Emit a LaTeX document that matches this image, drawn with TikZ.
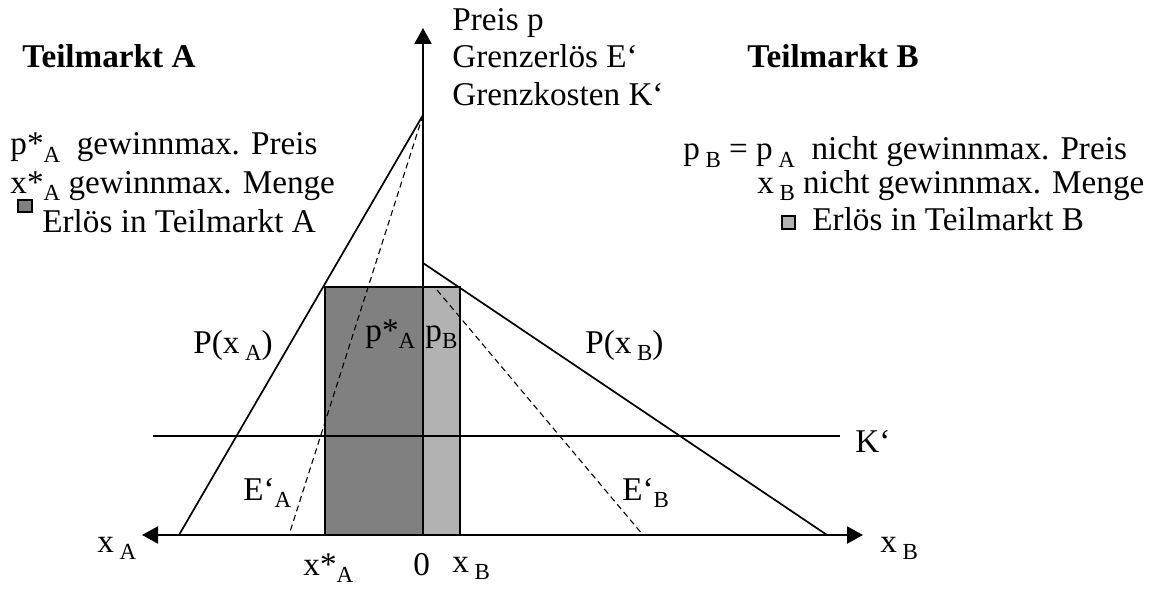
\documentclass[tikz,border=0pt]{standalone}
\usepackage{fontspec}
\setmainfont{Liberation Serif}
\usetikzlibrary{arrows.meta}
\tikzset{
  axis/.style={line width=1pt, -{Triangle[length=8pt,width=8.5pt]}},
  demand/.style={line width=0.85pt},
  margrev/.style={line width=0.55pt, dash pattern=on 3pt off 2pt},
  area/.style={draw=black, line width=0.7pt},
  txt/.style={anchor=base west, inner sep=0pt, font=\fontsize{16.6}{19}\selectfont},
  head/.style={txt, font=\fontsize{16.6}{19}\selectfont\bfseries}
}
\newcommand{\lowidx}[1]{\raisebox{-3.8pt}{\fontsize{11.5}{11.5}\selectfont #1}}
\colorlet{areaA}{black!50}
\colorlet{areaB}{black!30}

\begin{document}
\begin{tikzpicture}[x=0.5pt, y=-0.5pt]
  \useasboundingbox (0,0) rectangle (1149,588);
  \coordinate (o) at (423,535);
  \coordinate (ptop) at (423,28);
  \coordinate (xa) at (142,535);
  \coordinate (xb) at (863,535);
  \coordinate (ra) at (325,287);
  \coordinate (rb) at (460,287);
  \coordinate (k0) at (153,436);
  \coordinate (k1) at (840,436);
  \coordinate (pa0) at (423,115);
  \coordinate (pa1) at (179,535);
  \coordinate (ea1) at (289,535);
  \coordinate (pb0) at (423,263);
  \coordinate (pb1) at (827,535);
  \coordinate (eb0) at (437,290);
  \coordinate (eb1) at (643,535);
  % Erloesflaechen
  \filldraw[area, fill=areaA] (ra) rectangle (o);
  \filldraw[area, fill=areaB] (o) rectangle (rb);
  % Kurven
  \draw[demand] (k0) -- (k1);
  \draw[demand] (pa0) -- (pa1);
  \draw[demand] (pb0) -- (pb1);
  \draw[margrev] (pa0) -- (ea1);
  \draw[margrev] (eb0) -- (eb1);
  % Achsen
  \draw[axis] (o) -- (ptop);
  \draw[axis] (o) -- (xa);
  \draw[axis] (o) -- (xb);

  \node[txt] (lp) at (452,31) {Preis p};
  \node[txt] (le) at (452,68) {Grenzerlös E‘};
  \node[txt] (lk) at (452,106) {Grenzkosten K‘};

  \node[head] (ha) at (22,68) {Teilmarkt A};
  \node[head] (hb) at (747,68) {Teilmarkt B};

  \node[txt] (a1) at (10,155) {p*\lowidx{A}\ \ gewinnmax. Preis};
  \node[txt] (a2) at (10,193) {x*\lowidx{A} gewinnmax. Menge};
  \filldraw[area, fill=areaA] (18,200) rectangle (32,212);
  \node[txt] (a3) at (42,232) {Erlös in Teilmarkt A};

  \node[txt] (b1) at (683,160) {p\,\lowidx{B} = p\,\lowidx{A}\ \ nicht gewinnmax. Preis};
  \node[txt] (b2) at (757,193) {x\,\lowidx{B} nicht gewinnmax. Menge};
  \filldraw[area, fill=areaB] (782,216) rectangle (795,229);
  \node[txt] (b3) at (812,230) {Erlös in Teilmarkt B};

  \node[txt] (npa) at (193,353) {P(x\,\lowidx{A})};
  \node[txt] (npb) at (585,353) {P(x\,\lowidx{B})};
  \node[txt] (nsa) at (365,341) {p*\lowidx{A}};
  \node[txt] (nsb) at (425,341) {p\lowidx{B}};
  \node[txt] (nea) at (243,500) {E‘\lowidx{A}};
  \node[txt] (neb) at (622,500) {E‘\lowidx{B}};
  \node[txt] (nk) at (855,452) {K‘};
  \node[txt] (nxa) at (97,552) {x\,\lowidx{A}};
  \node[txt] (nxb) at (880,552) {x\,\lowidx{B}};
  \node[txt] (nxs) at (303,575) {x*\lowidx{A}};
  \node[txt] (n0) at (413,575) {0};
  \node[txt] (nxq) at (452,572) {x\,\lowidx{B}};
\end{tikzpicture}
\end{document}
